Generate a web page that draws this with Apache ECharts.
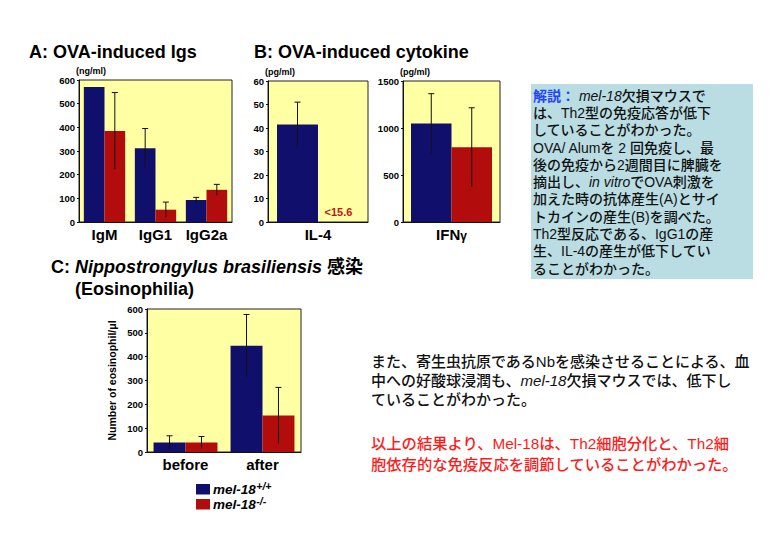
<!DOCTYPE html>
<html><head><meta charset="utf-8">
<script src="https://cdn.jsdelivr.net/npm/echarts@6/dist/echarts.min.js"></script>
<style>html,body{margin:0;padding:0;background:#fff}#c{width:780px;height:540px}</style>
</head><body><div id="c"></div>
<script>
// ---- data ----
const igCategories = ['IgM', 'IgG1', 'IgG2a'];
const igWild = [570, 312, 93];
const igWildErr = [null, 83, 11];
const igKO = [385, 52, 136];
const igKOErr = [162, 32, 23];

const il4Categories = ['IL-4'];
const il4Wild = [41.5];
const il4WildErr = [9.5];
const il4KO = [0];            // below detection limit
const il4KOLabel = '<15.6';

const ifnCategories = ['IFNγ'];
const ifnWild = [1047];
const ifnWildErr = [318];
const ifnKO = [795];
const ifnKOErr = [420];

const eoCategories = ['before', 'after'];
const eoWild = [40, 446];
const eoWildErr = [28, 131];
const eoKO = [40, 153];
const eoKOErr = [25, 118];

const igTicks = [0, 600, 100];
const il4Ticks = [0, 60, 10];
const ifnTicks = [0, 1500, 500];
const eoTicks = [0, 600, 100];

const legendNames = ['mel-18', 'mel-18'];
const legendSups = ['+/+', '-/-'];

// ---- style ----
const NAVY = '#10106c', RED = '#b20c0c', YEL = '#ffffa3';
const FONT = "'Liberation Sans', Arial, 'Noto Sans CJK JP', sans-serif";
const gaps = [0.19, 0.18, 0.165, 0.17];

function errData(vals, errs, side, gap) {
  const out = [];
  vals.forEach((v, i) => { if (errs[i] != null) out.push([i, v, errs[i], side, gap]); });
  return out;
}
function renderErr(params, api) {
  const cat = api.value(0), val = api.value(1), err = api.value(2), side = api.value(3), gap = api.value(4);
  const band = api.size([1, 0])[0];
  const bw = band * (1 - gap) / 2;
  const cx = api.coord([cat, 0])[0] + side * bw / 2;
  const top = api.coord([cat, val + err])[1];
  const bot = api.coord([cat, Math.max(0, val - err)])[1];
  const st = { stroke: '#111', lineWidth: 1 };
  return { type: 'group', children: [
    { type: 'line', shape: { x1: cx, y1: top, x2: cx, y2: bot }, style: st },
    { type: 'line', shape: { x1: cx - 3, y1: top, x2: cx + 3, y2: top }, style: st }
  ]};
}
function xAx(gi, cats) {
  return { type: 'category', gridIndex: gi, data: cats,
    axisLine: { lineStyle: { color: '#111', width: 1 } }, axisTick: { show: false },
    axisLabel: { interval: 0, hideOverlap: false, color: '#000', fontSize: 15, fontWeight: 'bold', fontFamily: FONT, margin: 5,
      formatter: v => v === 'IFNγ' ? 'IFN{g|γ}' : v,
      rich: { g: { fontSize: 12, fontWeight: 'bold', fontFamily: FONT, padding: [3, 0, 0, 0] } } } };
}
function yAx(gi, t, unit) {
  return { type: 'value', gridIndex: gi, min: t[0], max: t[1], interval: t[2],
    name: unit || '', nameLocation: 'end', nameGap: 3,
    nameTextStyle: { color: '#000', fontSize: 9, fontWeight: 'bold', fontFamily: FONT, align: 'left', padding: [0, 0, 0, -3] },
    splitLine: { show: false },
    axisLine: { show: true, lineStyle: { color: '#111', width: 1 } },
    axisTick: { show: true, length: 2, lineStyle: { color: '#111' } },
    axisLabel: { color: '#000', fontSize: 9.5, fontWeight: 'bold', fontFamily: FONT, margin: 4, formatter: v => String(v) } };
}
function grid(l, t, w, h) {
  return { left: l, top: t, width: w, height: h, show: true, backgroundColor: YEL,
    borderColor: '#222', borderWidth: 1, containLabel: false };
}
function bars(gi, wild, ko, gap, koLabel) {
  const s = [
    { type: 'bar', name: 'wild', xAxisIndex: gi, yAxisIndex: gi, data: wild,
      itemStyle: { color: NAVY }, barGap: '0%', barCategoryGap: (gap * 100) + '%' },
    { type: 'bar', name: 'ko', xAxisIndex: gi, yAxisIndex: gi, data: ko,
      itemStyle: { color: RED }, barGap: '0%', barCategoryGap: (gap * 100) + '%' }
  ];
  if (koLabel) s[1].label = { show: true, position: 'top', distance: 5, formatter: () => koLabel,
    color: '#c0161a', fontSize: 11, fontWeight: 'bold', fontFamily: FONT };
  return s;
}
function errs(gi, vals, e, side, gap) {
  return { type: 'custom', xAxisIndex: gi, yAxisIndex: gi, renderItem: renderErr,
    data: errData(vals, e, side, gap), z: 5, silent: true };
}

const chart = echarts.init(document.getElementById('c'), null, { renderer: 'svg' });

const boxText = [
  '{b|解説：} {i|mel-18}欠損マウスで',
  'は、Th2型の免疫応答が低下',
  'していることがわかった。',
  'OVA/ Alumを 2 回免疫し、最',
  '後の免疫から2週間目に脾臓を',
  '摘出し、{i|in vitro}でOVA刺激を',
  '加えた時の抗体産生(A)とサイ',
  'トカインの産生(B)を調べた。',
  'Th2型反応である、IgG1の産',
  '生、IL-4の産生が低下してい',
  'ることがわかった。'
].join('\n');
const bodyText = [
  'また、寄生虫抗原であるNbを感染させることによる、血',
  '中への好酸球浸潤も、{i|mel-18}欠損マウスでは、低下し',
  'ていることがわかった。'
].join('\n');
const redText = [
  '以上の結果より、Mel-18は、Th2細胞分化と、Th2細',
  '胞依存的な免疫反応を調節していることがわかった。'
].join('\n');

// legend (built from text + swatches)
const LFONT = 'italic bold 13.5px ' + FONT;
const mctx = document.createElement('canvas').getContext('2d');
mctx.font = LFONT;
const legendEls = [];
[NAVY, RED].forEach((col, k) => {
  const y0 = 484 + k * 15;
  const w = mctx.measureText(legendNames[k]).width;
  legendEls.push(
    { type: 'rect', shape: { x: 196, y: y0, width: 14, height: 10.5 }, style: { fill: col } },
    { type: 'text', x: 213, y: y0 + 5.5, style: { text: legendNames[k], font: LFONT, fill: '#000', verticalAlign: 'middle' } },
    { type: 'text', x: 213 + w + 0.5, y: y0 + 1.5, style: { text: legendSups[k], font: 'italic bold 10.5px ' + FONT, fill: '#000', verticalAlign: 'middle' } }
  );
});

const option = {
  animation: false,
  backgroundColor: '#fff',
  grid: [grid(79, 80, 153, 142), grid(268, 81, 100, 141), grid(403, 81, 97, 141), grid(147, 309, 154, 143)],
  xAxis: [xAx(0, igCategories), xAx(1, il4Categories), xAx(2, ifnCategories), xAx(3, eoCategories)],
  yAxis: [yAx(0, igTicks, '(ng/ml)'), yAx(1, il4Ticks, '(pg/ml)'), yAx(2, ifnTicks, '(pg/ml)'),
    Object.assign(yAx(3, eoTicks, 'Number of eosinophil/μl'), {
      nameLocation: 'middle', nameGap: 30,
      nameTextStyle: { color: '#000', fontSize: 10.5, fontWeight: 'bold', fontFamily: FONT, align: 'center', padding: [0, 0, 0, 0] } })],
  series: [
    ...bars(0, igWild, igKO, gaps[0]),
    errs(0, igWild, igWildErr, -1, gaps[0]), errs(0, igKO, igKOErr, 1, gaps[0]),
    ...bars(1, il4Wild, il4KO, gaps[1], il4KOLabel),
    errs(1, il4Wild, il4WildErr, -1, gaps[1]),
    ...bars(2, ifnWild, ifnKO, gaps[2]),
    errs(2, ifnWild, ifnWildErr, -1, gaps[2]), errs(2, ifnKO, ifnKOErr, 1, gaps[2]),
    ...bars(3, eoWild, eoKO, gaps[3]),
    errs(3, eoWild, eoWildErr, -1, gaps[3]), errs(3, eoKO, eoKOErr, 1, gaps[3])
  ],
  graphic: [
    { type: 'text', x: 29, y: 52, style: { text: 'A: OVA-induced Igs', font: 'bold 18px ' + FONT, fill: '#000', verticalAlign: 'middle' } },
    { type: 'text', x: 254, y: 52, style: { text: 'B: OVA-induced cytokine', font: 'bold 18px ' + FONT, fill: '#000', verticalAlign: 'middle' } },
    { type: 'text', x: 51, y: 267, style: { text: 'C: {i|Nippostrongylus brasiliensis} 感染', font: 'bold 18px ' + FONT, fill: '#000', verticalAlign: 'middle',
      rich: { i: { fontStyle: 'italic', fontWeight: 'bold', fontSize: 18, fontFamily: FONT } } } },
    { type: 'text', x: 75, y: 289, style: { text: '(Eosinophilia)', font: 'bold 18px ' + FONT, fill: '#000', verticalAlign: 'middle' } },
    { type: 'rect', shape: { x: 531, y: 84, width: 222, height: 195 }, style: { fill: '#b9dde3' }, z: 0 },
    { type: 'text', x: 533, y: 87, z: 1, style: { text: boxText, font: '500 14px ' + FONT, fill: '#111', lineHeight: 17.3,
      rich: { b: { fill: '#2244ff', fontSize: 14, fontWeight: 'bold', fontFamily: FONT, lineHeight: 17.3 },
              i: { fontStyle: 'italic', fontSize: 14, fontWeight: 500, fontFamily: FONT, lineHeight: 17.3 } } } },
    { type: 'text', x: 371, y: 352, style: { text: bodyText, font: '500 15px ' + FONT, fill: '#111', lineHeight: 19,
      rich: { i: { fontStyle: 'italic', fontSize: 15, fontWeight: 500, fontFamily: FONT, lineHeight: 19 } } } },
    { type: 'text', x: 371, y: 433, style: { text: redText, font: '500 15.3px ' + FONT, fill: '#ff1a1a', lineHeight: 21 } },
    ...legendEls
  ]
};
chart.setOption(option);
</script></body></html>
